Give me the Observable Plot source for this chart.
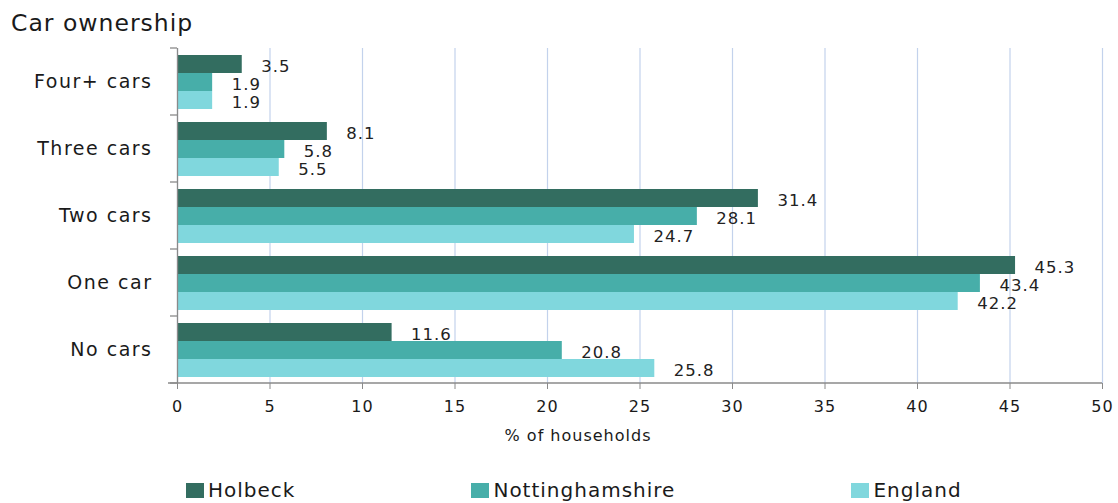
<!DOCTYPE html>
<html>
<head>
<meta charset="utf-8">
<script src="https://cdn.jsdelivr.net/npm/d3@7"></script>
<script src="https://cdn.jsdelivr.net/npm/@observablehq/plot@0.6"></script>
<style>
  body { margin: 0; background: #fff; font-family: "DejaVu Sans", sans-serif; color: #1a1a1a; }
  #wrap { width: 1118px; height: 503px; overflow: hidden; }
  #title { height: 40px; box-sizing: border-box; padding: 12px 0 0 11px; font-size: 23.5px; line-height: 23px; letter-spacing: 1px; }
  #legend { height: 43px; box-sizing: border-box; padding: 20px 0 0 186px; display: flex; gap: 176px; }
  .item { display: flex; align-items: center; height: 20px; font-size: 20px; line-height: 20px; letter-spacing: 1px; }
  .sw { width: 18px; height: 15px; margin-right: 4px; }
</style>
</head>
<body>
<div id="wrap">
  <div id="title">Car ownership</div>
  <div id="chart"></div>
  <div id="legend"></div>
</div>
<script>
const categories = ["Four+ cars", "Three cars", "Two cars", "One car", "No cars"];
const seriesNames = ["Holbeck", "Nottinghamshire", "England"];
const holbeck = [3.5, 8.1, 31.4, 45.3, 11.6];
const nottinghamshire = [1.9, 5.8, 28.1, 43.4, 20.8];
const england = [1.9, 5.5, 24.7, 42.2, 25.8];
const xTicks = [0, 5, 10, 15, 20, 25, 30, 35, 40, 45, 50];
const xLabel = "% of households";
const colors = ["#336d60", "#47aea9", "#80d7dd"];

const seriesValues = [holbeck, nottinghamshire, england];
const data = categories.flatMap((c, i) =>
  seriesNames.map((s, j) => ({category: c, series: s, value: seriesValues[j][i]}))
);
const labelData = [{category: categories[categories.length - 1], t: xLabel}];

const chart = Plot.plot({
  width: 1118,
  height: 420,
  marginTop: 8,
  marginBottom: 77,
  marginLeft: 177,
  marginRight: 16,
  style: {fontFamily: "DejaVu Sans", fontSize: "16px", letterSpacing: "1px", color: "#1a1a1a", background: "#fff"},
  x: {domain: [0, 50]},
  y: {domain: seriesNames, paddingInner: 0, paddingOuter: 0.33, axis: null},
  fy: {domain: categories, padding: 0},
  color: {domain: seriesNames, range: colors},
  marks: [
    Plot.gridX(xTicks, {stroke: "#c3d2ec", strokeOpacity: 1, strokeWidth: 1.2}),
    Plot.barX(data, {x: "value", y: "series", fy: "category", fill: "series"}),
    Plot.ruleX([0], {stroke: "#8a8a8a", strokeWidth: 1.3}),
    Plot.text(data, {x: "value", y: "series", fy: "category", text: d => d.value.toFixed(1),
      textAnchor: "start", dx: 19, dy: 2, fontSize: 16.5, fill: "#222"}),
    Plot.axisX(xTicks, {tickSize: 6, tickPadding: 11, fontSize: 16, label: null, stroke: "#8a8a8a", fill: "#1a1a1a"}),
    Plot.axisFy({anchor: "left", tickSize: 0, tickPadding: 25, fontSize: 19, label: null, fill: "#1a1a1a"}),
    Plot.text(labelData, {fy: "category", text: "t", frameAnchor: "bottom", dx: -62, dy: 57, fontSize: 16, fill: "#1a1a1a"})
  ]
});
document.getElementById("chart").appendChild(chart);

// fy tick labels wider spacing
d3.select(chart).selectAll('g[aria-label="fy-axis tick label"] text').style("letter-spacing", "1.5px");

// left axis boundary ticks and bottom axis line, from the plot's own scales
const fy = chart.scale("fy");
const x = chart.scale("x");
const bounds = categories.map(c => fy.apply(c));
bounds.push(fy.apply(categories[categories.length - 1]) + fy.bandwidth);
const svg = d3.select(chart);
const x0 = x.apply(0);
svg.append("g").attr("stroke", "#8a8a8a").attr("stroke-width", 1.3)
  .selectAll("line").data(bounds).join("line")
  .attr("x1", x0 - 7).attr("x2", x0).attr("y1", d => d).attr("y2", d => d);
svg.append("line").attr("stroke", "#8a8a8a").attr("stroke-width", 1.3)
  .attr("x1", x0 - 9).attr("x2", x.apply(50))
  .attr("y1", bounds[bounds.length - 1]).attr("y2", bounds[bounds.length - 1]);

// legend
const legend = d3.select("#legend");
seriesNames.forEach((s, i) => {
  const it = legend.append("div").attr("class", "item");
  it.append("div").attr("class", "sw").style("background", colors[i]);
  it.append("span").text(s);
});
</script>
</body>
</html>
